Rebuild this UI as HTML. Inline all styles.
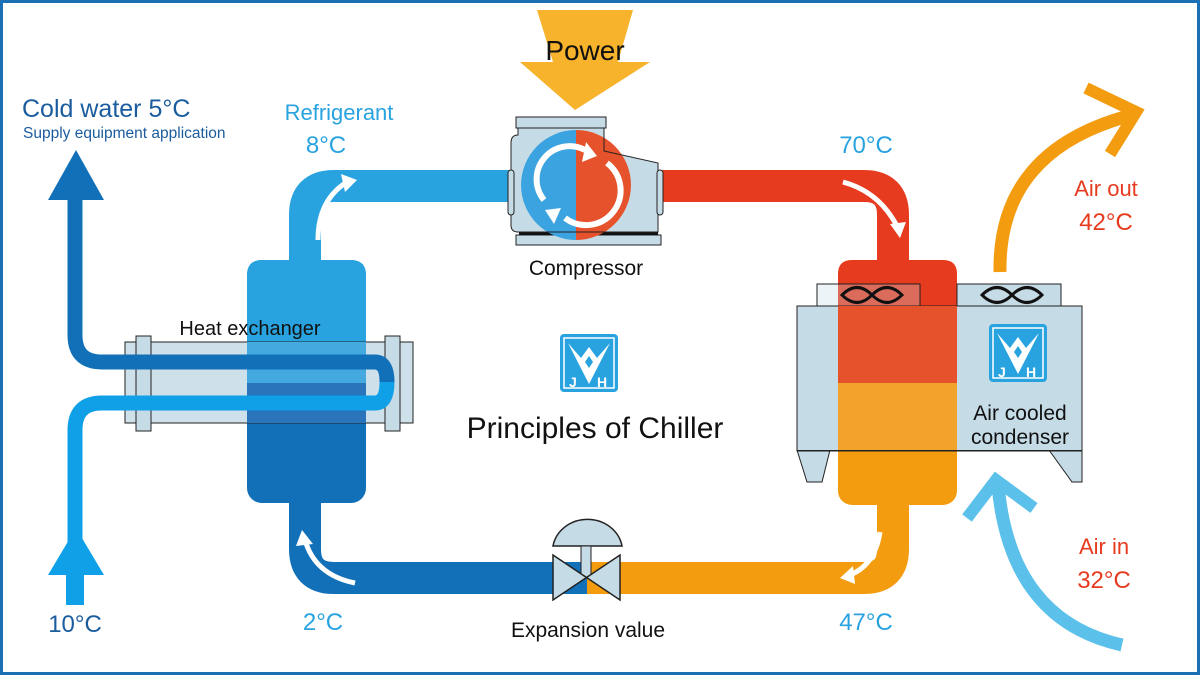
<!DOCTYPE html>
<html><head><meta charset="utf-8"><style>
html,body{margin:0;padding:0;background:#fff}
svg{display:block}
text{font-family:"Liberation Sans",sans-serif}
</style></head><body>
<svg width="1200" height="675" viewBox="0 0 1200 675" xmlns="http://www.w3.org/2000/svg">
<rect x="1.5" y="1.5" width="1197" height="672" fill="#fff" stroke="#1a6fb5" stroke-width="3"/>
<defs>
<g id="logo">
<rect x="0" y="0" width="58" height="58" rx="4" fill="#29a3e0"/>
<rect x="4" y="4" width="50" height="50" fill="none" stroke="#fff" stroke-width="1.5"/>
<path d="M8 9 L29 50 L50 9 L37 24 L29 13 L21 24 Z" fill="#fff"/>
<path d="M29 22 L33 28 L29 34 L25 28 Z" fill="#29a3e0"/>
<text x="9" y="53" font-size="14" font-weight="bold" fill="#fff">J</text>
<text x="37" y="53" font-size="14" font-weight="bold" fill="#fff">H</text>
</g>
</defs>

<!-- refrigerant loop -->
<path d="M305 275 V215 Q305 186 334 186 H565" fill="none" stroke="#29a3e0" stroke-width="32"/>
<path d="M565 186 H864 Q893 186 893 215 V275" fill="none" stroke="#e63b1f" stroke-width="32"/>
<path d="M893 490 V549 Q893 578 864 578 H587" fill="none" stroke="#f39c0f" stroke-width="32"/>
<path d="M587 578 H334 Q305 578 305 549 V490" fill="none" stroke="#1170b8" stroke-width="32"/>

<!-- heat exchanger tank -->
<rect x="247" y="260" width="119" height="243" rx="15" fill="#1170b8"/>
<path d="M247 385 V275 Q247 260 262 260 H351 Q366 260 366 275 V385 Z" fill="#29a3e0"/>
<!-- hx tube -->
<rect x="125" y="342" width="288" height="81" fill="#c5dbe6" fill-opacity="0.85" stroke="#222" stroke-width="1"/>
<rect x="247" y="342" width="119" height="41" fill="#44a9df"/>
<rect x="247" y="383" width="119" height="40" fill="#2a74bb"/>
<rect x="136" y="336" width="15" height="95" fill="#c5dbe6" stroke="#222"/>
<rect x="385" y="336" width="15" height="95" fill="#c5dbe6" stroke="#222"/>
<!-- water pipes -->
<path d="M75 185 V335 Q75 362 102 362 H375 Q387 362 387 382" fill="none" stroke="#1170b8" stroke-width="15"/>
<path d="M387 382 Q387 403 375 403 H102 Q75 403 75 430 V545" fill="none" stroke="#0fa0e8" stroke-width="15"/>
<polygon points="48,200 76,150 104,200" fill="#1170b8"/>
<polygon points="48,575 76,528 104,575" fill="#0fa0e8"/>
<rect x="66" y="570" width="18" height="35" fill="#0fa0e8"/>

<!-- compressor -->
<rect x="516" y="235" width="145" height="10" fill="#c5dbe6" stroke="#222"/>
<rect x="519" y="226" width="139" height="9" fill="#111"/>
<path d="M518 128 H604 V151 L658 163 V232 H518 Q511 232 511 225 V143 Q511 135 518 135 Z" fill="#c5dbe6"/>
<path d="M576 130 A55 55 0 0 0 576 240 Z" fill="#3ba3e0"/>
<path d="M576 130 A55 55 0 0 1 576 240 Z" fill="#e6522b"/>
<path d="M518 128 H604 V151 L658 163 V232 H518 Q511 232 511 225 V143 Q511 135 518 135 Z" fill="none" stroke="#222"/>
<rect x="516" y="117" width="90" height="11" fill="#c5dbe6" stroke="#222"/>
<rect x="508" y="170" width="6" height="45" rx="3" fill="#c5dbe6" stroke="#222"/>
<rect x="657" y="170" width="6" height="45" rx="3" fill="#c5dbe6" stroke="#222"/>
<path d="M544 200 A33 33 0 0 1 585 150" fill="none" stroke="#fff" stroke-width="6"/>
<path d="M607 163 A33 33 0 0 1 565 218" fill="none" stroke="#fff" stroke-width="6"/>
<polygon points="586,142 597,156 582,162" fill="#fff"/>
<polygon points="554,224 545,210 561,208" fill="#fff"/>
<!-- power arrow -->
<polygon points="537,10 633,10 618,62 650,62 575,110 520,62 553,62" fill="#f7b32b"/>
<text x="585" y="60" font-size="28" text-anchor="middle" fill="#111">Power</text>
<text x="586" y="275" font-size="21" text-anchor="middle" fill="#111">Compressor</text>

<!-- condenser -->
<rect x="838" y="260" width="119" height="245" rx="14" fill="#f39c0f"/>
<path d="M838 383 V274 Q838 260 852 260 H943 Q957 260 957 274 V383 Z" fill="#e63b1f"/>
<rect x="817" y="284" width="103" height="22" fill="#c5dbe6" fill-opacity="0.3" stroke="#222"/>
<rect x="957" y="284" width="104" height="22" fill="#c5dbe6" stroke="#222"/>
<polygon points="797,450 830,450 822,482 807,482" fill="#c5dbe6" stroke="#222"/>
<polygon points="1049,450 1082,450 1082,482 1072,482" fill="#c5dbe6" stroke="#222"/>
<rect x="797" y="306" width="285" height="145" fill="#c5dbe6" stroke="#222"/>
<rect x="838" y="306" width="119" height="77" fill="#e6522b"/>
<rect x="838" y="383" width="119" height="68" fill="#f2a32c"/>
<line x1="797" y1="450.5" x2="1082" y2="450.5" stroke="#222"/>
<path d="M842 295 C852 285 862 285 872 295 C882 305 892 305 902 295 C892 285 882 285 872 295 C862 305 852 305 842 295 Z" fill="none" stroke="#111" stroke-width="3"/>
<path d="M982 295 C992 285 1002 285 1012 295 C1022 305 1032 305 1042 295 C1032 285 1022 285 1012 295 C1002 305 992 305 982 295 Z" fill="none" stroke="#111" stroke-width="3"/>
<use href="#logo" x="989" y="324"/>
<text x="1020" y="420" font-size="21" text-anchor="middle" fill="#111">Air cooled</text>
<text x="1020" y="444" font-size="21" text-anchor="middle" fill="#111">condenser</text>

<!-- flow arrows -->
<path d="M318 240 Q318 200 347 182" fill="none" stroke="#fff" stroke-width="5"/>
<polygon points="357,180 341,174 345,192" fill="#fff"/>
<path d="M843 182 Q880 192 898 228" fill="none" stroke="#fff" stroke-width="5"/>
<polygon points="900,238 890,224 906,222" fill="#fff"/>
<path d="M880 532 Q875 565 850 575" fill="none" stroke="#fff" stroke-width="5"/>
<polygon points="840,578 853,566 855,584" fill="#fff"/>
<path d="M355 583 Q315 575 305 540" fill="none" stroke="#fff" stroke-width="5"/>
<polygon points="302,530 296,546 313,544" fill="#fff"/>

<!-- expansion valve -->
<path d="M553 546 A35 32 0 0 1 622 546 Z" fill="#c5dbe6" stroke="#222" stroke-width="1.5"/>
<rect x="581" y="546" width="10" height="32" fill="#c5dbe6" stroke="#222"/>
<polygon points="553,555 620,600 620,555 553,600" fill="#c5dbe6" stroke="#222" stroke-width="1.5"/>

<!-- air arrows -->
<path d="M1000 272 Q998 150 1132 115" fill="none" stroke="#f39c0f" stroke-width="13"/>
<path d="M1086 88 L1136 112 L1110 154" fill="none" stroke="#f39c0f" stroke-width="12" stroke-linejoin="miter"/>
<path d="M1122 645 Q1010 620 998 485" fill="none" stroke="#5bc0ea" stroke-width="13"/>
<path d="M967 518 L996 480 L1034 508" fill="none" stroke="#5bc0ea" stroke-width="12" stroke-linejoin="miter"/>

<use href="#logo" x="560" y="334"/>
<text x="595" y="438" font-size="30" text-anchor="middle" fill="#111">Principles of Chiller</text>
<text x="250" y="335" font-size="20" text-anchor="middle" fill="#111">Heat exchanger</text>

<!-- labels -->
<text x="22" y="117" font-size="25" fill="#1a5c9e">Cold water 5°C</text>
<text x="23" y="138" font-size="15.5" fill="#1a5c9e">Supply equipment application</text>
<text x="339" y="120" font-size="22" text-anchor="middle" fill="#29a3e0">Refrigerant</text>
<text x="326" y="153" font-size="24" text-anchor="middle" fill="#29a3e0">8°C</text>
<text x="866" y="153" font-size="24" text-anchor="middle" fill="#29a3e0">70°C</text>
<text x="1106" y="196" font-size="22" text-anchor="middle" fill="#e63b1f">Air out</text>
<text x="1106" y="230" font-size="24" text-anchor="middle" fill="#e63b1f">42°C</text>
<text x="1104" y="554" font-size="22" text-anchor="middle" fill="#e63b1f">Air in</text>
<text x="1104" y="588" font-size="24" text-anchor="middle" fill="#e63b1f">32°C</text>
<text x="75" y="632" font-size="24" text-anchor="middle" fill="#1a5c9e">10°C</text>
<text x="323" y="630" font-size="24" text-anchor="middle" fill="#29a3e0">2°C</text>
<text x="866" y="630" font-size="24" text-anchor="middle" fill="#29a3e0">47°C</text>
<text x="588" y="637" font-size="21" text-anchor="middle" fill="#111">Expansion value</text>
</svg>
</body></html>
